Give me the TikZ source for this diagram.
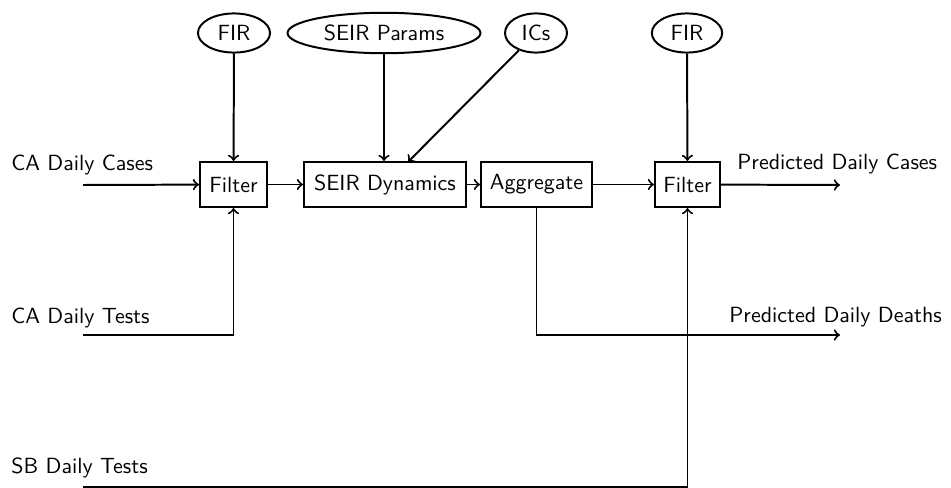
\documentclass[tikz,border=0pt]{standalone}
\usetikzlibrary{shapes.geometric}
\renewcommand{\familydefault}{\sfdefault}
\begin{document}
\begin{tikzpicture}[x=0.455pt,y=-0.455pt,
  blk/.style={draw,line width=0.9pt,rectangle,minimum height=20.5pt,inner sep=2pt,font=\sffamily},
  param/.style={draw,line width=0.9pt,ellipse,inner sep=1pt,minimum height=17.8pt,font=\sffamily},
  lbl/.style={inner sep=0pt,font=\sffamily},
  conn/.style={line width=0.9pt,->},
  line/.style={line width=0.9pt}]
\useasboundingbox (0,0) rectangle (951,488);
% parameter ellipses
\node[param,minimum width=32.8pt] (fir1) at (234,33) {FIR};
\node[param,minimum width=87.8pt,minimum height=18.4pt] (params) at (384,33) {SEIR Params};
\node[param,minimum width=28.2pt] (ics) at (536,33) {ICs};
\node[param,minimum width=32pt] (fir2) at (687,33) {FIR};
% blocks
\node[blk,minimum width=30.5pt] (filt1) at (233.5,184.5) {Filter};
\node[blk,minimum width=73.7pt] (seir) at (385,184.5) {SEIR Dynamics};
\node[blk,minimum width=50.5pt] (agg) at (536.5,184.5) {Aggregate};
\node[blk,minimum width=29.6pt] (filt2) at (687.5,184.5) {Filter};
% labels
\node[lbl,anchor=west] (lcases) at (11,165) {CA Daily Cases};
\node[lbl,anchor=west] (ltests) at (11,318) {CA Daily Tests};
\node[lbl,anchor=west] (lsb) at (11,468) {SB Daily Tests};
\node[lbl,anchor=west] (lpc) at (737,164) {Predicted Daily Cases};
\node[lbl,anchor=west] (lpd) at (729,317) {Predicted Daily Deaths};
% free ends
\coordinate (incases) at (83,185);
\coordinate (intests) at (83,335);
\coordinate (insb) at (83,487);
\coordinate (outcases) at (840,185);
\coordinate (outdeaths) at (840,335);
\coordinate (icsend) at (408,162);
% connectors
\draw[conn] (fir1) -- (filt1);
\draw[conn] (params) -- (params |- seir.north);
\draw[conn] (ics) -- (icsend);
\draw[conn] (fir2) -- (filt2);
\draw[conn] (incases) -- (filt1);
\draw[conn] (filt1) -- (seir);
\draw[conn] (seir) -- (agg);
\draw[conn] (agg) -- (filt2);
\draw[conn] (filt2) -- (outcases);
\draw[conn] (intests) -| (filt1.south);
\draw[conn] (insb) -| (filt2.south);
\draw[conn] (agg.south) |- (outdeaths);
\end{tikzpicture}
\end{document}
